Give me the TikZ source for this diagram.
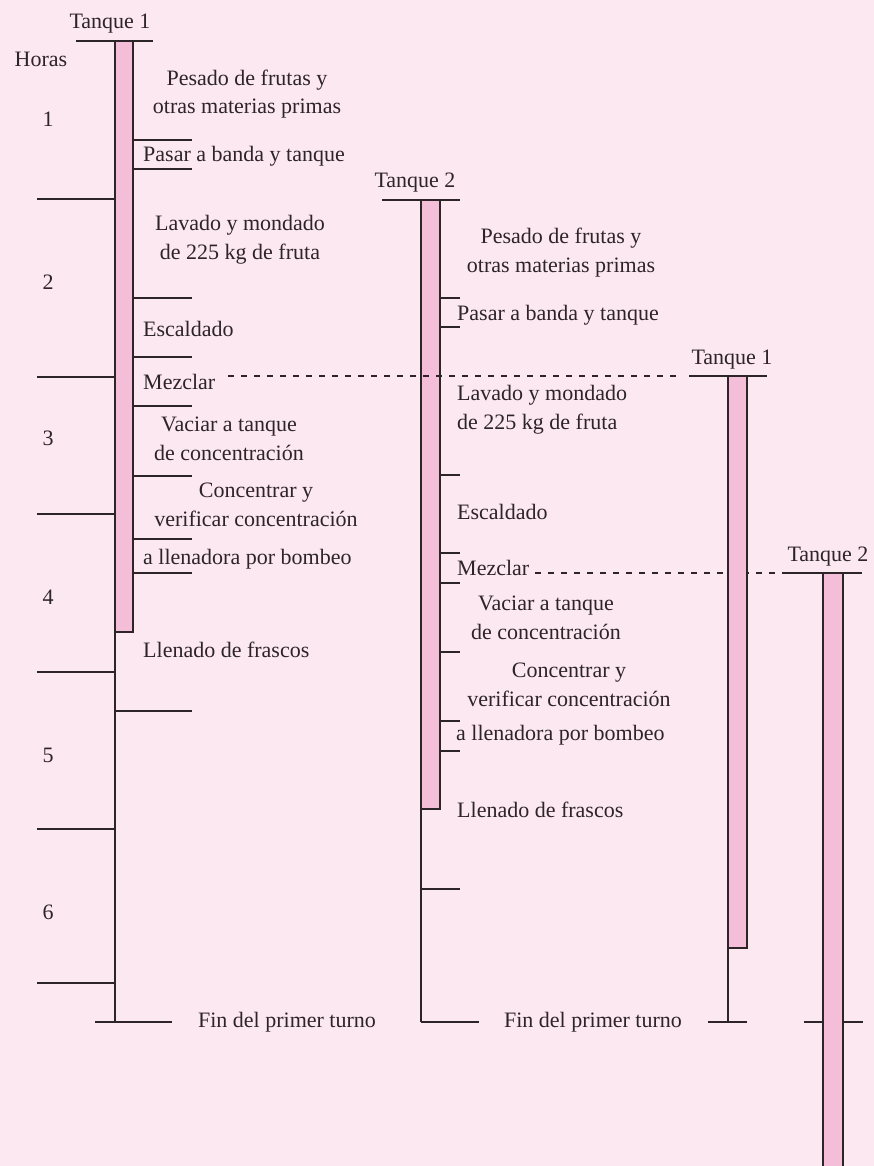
\documentclass[tikz,border=0pt]{standalone}
\usepackage{fontspec}
\setmainfont{Liberation Serif}
\definecolor{bgpink}{RGB}{252,232,241}
\definecolor{barpink}{RGB}{245,190,216}
\definecolor{ink}{RGB}{45,36,40}

\begin{document}
\begin{tikzpicture}[x=1pt, y=-1pt,
    every node/.style={inner sep=0pt, text=ink, font=\fontsize{22}{28.5}\selectfont},
    tick/.style={draw=ink, line width=1.1pt},
    bar/.style={draw=ink, fill=barpink, line width=1.1pt},
    dots/.style={draw=ink, line width=2.5pt, dash pattern=on 6pt off 7pt}]
            \fill[bgpink] (0,0) rectangle (874,1166);
            \useasboundingbox (0,0) rectangle (874,1166);

            \node[anchor=base] (HR) at (41,67) {Horas};
            \node[anchor=base] (H1) at (48,127) {1};
            \node[anchor=base] (H2) at (48,289) {2};
            \node[anchor=base] (H3) at (48,445) {3};
            \node[anchor=base] (H4) at (48,604) {4};
            \node[anchor=base] (H5) at (48,762) {5};
            \node[anchor=base] (H6) at (48,919) {6};

            \draw[tick] (37,199) -- (115,199);
            \draw[tick] (37,377) -- (115,377);
            \draw[tick] (37,514) -- (115,514);
            \draw[tick] (37,672) -- (115,672);
            \draw[tick] (37,829) -- (115,829);
            \draw[tick] (37,983) -- (115,983);

            \node[anchor=base] (T1) at (110,29) {Tanque 1};
            \draw[tick] (76,41) -- (153,41);
            \draw[bar] (115,41) rectangle (133,632);
            \draw[tick] (115,632) -- (115,1022);
            \draw[tick] (95,1022) -- (172,1022);
            \draw[tick] (133,140) -- (192,140);
            \draw[tick] (133,169) -- (192,169);
            \draw[tick] (133,298) -- (192,298);
            \draw[tick] (133,357) -- (192,357);
            \draw[tick] (133,406) -- (192,406);
            \draw[tick] (133,476) -- (192,476);
            \draw[tick] (133,539) -- (192,539);
            \draw[tick] (133,573) -- (192,573);
            \draw[tick] (115,711) -- (192,711);

            \node[anchor=base, align=center] (A1) at (247,114) {Pesado de frutas y\\otras materias primas};
            \node[anchor=base west] (B1) at (143,162) {Pasar a banda y tanque};
            \node[anchor=base, align=center] (C1) at (240,259) {Lavado y mondado\\de 225 kg de fruta};
            \node[anchor=base west] (D1) at (143,336) {Escaldado};
            \node[anchor=base west] (E1) at (143,389) {Mezclar};
            \node[anchor=base, align=center] (F1) at (229,460) {Vaciar a tanque\\de concentración};
            \node[anchor=base, align=center] (G1) at (256,526) {Concentrar y\\verificar concentración};
            \node[anchor=base west] (K1) at (143,564) {a llenadora por bombeo};
            \node[anchor=base west] (L1) at (143,657) {Llenado de frascos};
            \node[anchor=base] (Z1) at (287,1027) {Fin del primer turno};

            \node[anchor=base] (T2) at (415,188) {Tanque 2};
            \draw[tick] (382,200) -- (460,200);
            \draw[bar] (421,200) rectangle (440,809);
            \draw[tick] (421,809) -- (421,1022);
            \draw[tick] (421,1022) -- (479,1022);
            \draw[tick] (440,298) -- (460,298);
            \draw[tick] (440,327) -- (460,327);
            \draw[tick] (440,475) -- (460,475);
            \draw[tick] (440,553) -- (460,553);
            \draw[tick] (440,583) -- (460,583);
            \draw[tick] (440,652) -- (460,652);
            \draw[tick] (440,721) -- (460,721);
            \draw[tick] (440,751) -- (460,751);
            \draw[tick] (421,889) -- (460,889);

            \node[anchor=base, align=center] (A2) at (561,272) {Pesado de frutas y\\otras materias primas};
            \node[anchor=base west] (B2) at (457,320) {Pasar a banda y tanque};
            \node[anchor=base west, align=left] (C2) at (457,429) {Lavado y mondado\\de 225 kg de fruta};
            \node[anchor=base west] (D2) at (457,519) {Escaldado};
            \node[anchor=base west] (E2) at (457,575) {Mezclar};
            \node[anchor=base, align=center] (F2) at (546,639) {Vaciar a tanque\\de concentración};
            \node[anchor=base, align=center] (G2) at (569,706) {Concentrar y\\verificar concentración};
            \node[anchor=base west] (K2) at (456,740) {a llenadora por bombeo};
            \node[anchor=base west] (L2) at (457,817) {Llenado de frascos};
            \node[anchor=base] (Z2) at (593,1027) {Fin del primer turno};

            \draw[dots] (228,376) -- (680,376);
            \draw[dots] (535,573) -- (785,573);

            \node[anchor=base] (T3) at (732,364) {Tanque 1};
            \draw[tick] (689,376) -- (767,376);
            \draw[bar] (728,376) rectangle (747,948);
            \draw[tick] (728,948) -- (728,1022);
            \draw[tick] (708,1022) -- (747,1022);

            \node[anchor=base] (T4) at (828,561) {Tanque 2};
            \draw[tick] (785,573) -- (862,573);
            \draw[tick] (804,1022) -- (863,1022);
            \draw[bar] (823,573) rectangle (843,1175);
          \end{tikzpicture}
\end{document}
